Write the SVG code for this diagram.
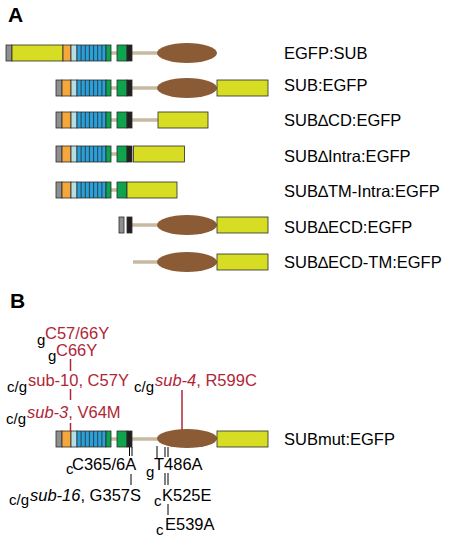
<svg xmlns="http://www.w3.org/2000/svg" width="457" height="543" viewBox="0 0 457 543">
<defs>
<style>
.o{stroke:#2b2b2b;stroke-width:0.8}
.gr{fill:#8f8f8f}.ye{fill:#d6dd22}.or{fill:#f6a73c}.lb{fill:#b5dfe6}.bl{fill:#2a9fd8}.gn{fill:#0ea44e}.bk{fill:#231f20}
.ell{fill:#8b5b35}
.tan{stroke:#c6baa2;stroke-width:3.5}
.sep{stroke:#2b2b2b;stroke-width:0.8}
.lbl{font-family:"Liberation Sans",Arial,sans-serif;font-size:16.5px;fill:#000}
.hd{font-family:"Liberation Sans",Arial,sans-serif;font-size:21px;font-weight:bold;fill:#000}
.rd{font-family:"Liberation Sans",Arial,sans-serif;font-size:16.5px;fill:#b02637}
.sm{font-family:"Liberation Sans",Arial,sans-serif;font-size:15px;fill:#000}
.blk{font-family:"Liberation Sans",Arial,sans-serif;font-size:16.5px;fill:#000}
.rl{stroke:#b02637;stroke-width:1.5}
.kl{stroke:#000;stroke-width:1}
</style>
<g id="dom">
<rect class="lb o" x="71" y="0" width="6" height="16"/>
<rect class="bl o" x="77" y="0" width="29" height="16"/>
<path class="sep" d="M81.1 0v16M85.3 0v16M89.4 0v16M93.6 0v16M97.7 0v16M101.9 0v16"/>
<rect class="gn o" x="106" y="0" width="5" height="16"/>
</g>
<g id="sub">
<rect class="gr o" x="56" y="0" width="6" height="16"/>
<rect class="or o" x="62" y="0" width="9" height="16"/>
<use href="#dom"/>
</g>
<g id="tm">
<rect class="gn o" x="117" y="0" width="10" height="16"/>
<rect class="bk o" x="127" y="0" width="5" height="16"/>
</g>
</defs>

<text class="hd" x="8" y="22">A</text>
<text class="hd" x="10" y="308">B</text>

<g id="connectors">
<line class="tan" x1="111" y1="53" x2="117" y2="53"/>
<line class="tan" x1="132" y1="53" x2="158" y2="53"/>
<line class="tan" x1="111" y1="88" x2="117" y2="88"/>
<line class="tan" x1="132" y1="88" x2="158" y2="88"/>
<line class="tan" x1="111" y1="120" x2="117" y2="120"/>
<line class="tan" x1="132" y1="120" x2="158" y2="120"/>
<line class="tan" x1="111" y1="154" x2="117" y2="154"/>
<line class="tan" x1="111" y1="190" x2="117" y2="190"/>
<line class="tan" x1="132" y1="225" x2="158" y2="225"/>
<line class="tan" x1="133" y1="262" x2="158" y2="262"/>
<line class="tan" x1="111" y1="439" x2="117" y2="439"/>
<line class="tan" x1="132" y1="439" x2="158" y2="439"/>
</g>

<g id="egfp-sub">
<rect class="gr o" x="6" y="45" width="6" height="16"/>
<rect class="ye o" x="12" y="45" width="51" height="16"/>
<rect class="or o" x="63" y="45" width="8" height="16"/>
<use href="#dom" x="0" y="45"/>
<use href="#tm" x="0" y="45"/>
<ellipse class="ell" cx="187" cy="53" rx="30" ry="10"/>
<text class="lbl" x="284" y="59">EGFP:SUB</text>
</g>

<g id="sub-egfp">
<use href="#sub" x="0" y="80"/>
<use href="#tm" x="0" y="80"/>
<ellipse class="ell" cx="187" cy="88" rx="30" ry="10"/>
<rect class="ye o" x="217" y="80" width="51" height="16"/>
<text class="lbl" x="284" y="91">SUB:EGFP</text>
</g>

<g id="sub-dcd">
<use href="#sub" x="0" y="112"/>
<use href="#tm" x="0" y="112"/>
<rect class="ye o" x="158" y="112" width="50" height="16"/>
<text class="lbl" x="284" y="126">SUB∆CD:EGFP</text>
</g>

<g id="sub-dintra">
<use href="#sub" x="0" y="146"/>
<use href="#tm" x="0" y="146"/>
<rect class="ye o" x="133.5" y="146" width="51" height="16"/>
<text class="lbl" x="284" y="162">SUB∆Intra:EGFP</text>
</g>

<g id="sub-dtm-intra">
<use href="#sub" x="0" y="182"/>
<rect class="gn o" x="117" y="182" width="10" height="16"/>
<rect class="ye o" x="127" y="182" width="50" height="16"/>
<text class="lbl" x="284" y="197">SUB∆TM-Intra:EGFP</text>
</g>

<g id="sub-decd">
<rect class="gr o" x="119" y="217" width="5" height="16"/>
<rect class="bk o" x="127" y="217" width="5" height="16"/>
<ellipse class="ell" cx="187" cy="225" rx="30" ry="10"/>
<rect class="ye o" x="217" y="217" width="51" height="16"/>
<text class="lbl" x="284" y="233">SUB∆ECD:EGFP</text>
</g>

<g id="sub-decd-tm">
<ellipse class="ell" cx="187" cy="262" rx="30" ry="10"/>
<rect class="ye o" x="217" y="254" width="51" height="16"/>
<text class="lbl" x="284" y="268">SUB∆ECD-TM:EGFP</text>
</g>

<g id="submut">
<use href="#sub" x="0" y="431"/>
<use href="#tm" x="0" y="431"/>
<ellipse class="ell" cx="187" cy="438.5" rx="30" ry="9.5"/>
<rect class="ye o" x="217" y="431" width="51" height="16"/>
<text class="lbl" x="284" y="445">SUBmut:EGFP</text>
</g>

<g id="mutation-lines">
<line class="rl" x1="70.5" y1="359" x2="70.5" y2="371"/>
<line class="rl" x1="70.5" y1="389" x2="70.5" y2="400"/>
<line class="rl" x1="70.5" y1="423" x2="70.5" y2="432"/>
<line class="rl" x1="182" y1="390" x2="182" y2="430"/>
<line class="kl" x1="129.5" y1="447" x2="129.5" y2="456"/>
<line class="kl" x1="132" y1="447" x2="132" y2="456"/>
<line class="kl" x1="131" y1="474" x2="131" y2="485"/>
<line class="kl" x1="157" y1="446" x2="157" y2="458"/>
<line class="kl" x1="165" y1="447" x2="165" y2="457"/>
<line class="kl" x1="168" y1="447" x2="168" y2="457"/>
<line class="kl" x1="165" y1="473" x2="165" y2="485"/>
<line class="kl" x1="168" y1="473" x2="168" y2="485"/>
<line class="kl" x1="168" y1="504" x2="168" y2="515"/>
</g>

<g id="mutation-labels">
<text class="sm" x="37" y="345">g</text>
<text class="rd" x="45" y="339">C57/66Y</text>
<text class="sm" x="48" y="361">g</text>
<text class="rd" x="56" y="356">C66Y</text>
<text class="sm" x="7" y="392">c/g</text>
<text class="rd" x="28" y="386">sub-10, C57Y</text>
<text class="sm" x="6" y="424">c/g</text>
<text class="rd" x="27" y="418"><tspan font-style="italic">sub-3</tspan>, V64M</text>
<text class="sm" x="134" y="392">c/g</text>
<text class="rd" x="155" y="386"><tspan font-style="italic">sub-4</tspan>, R599C</text>
<text class="sm" x="66" y="474">c</text>
<text class="blk" x="72" y="470">C365/6A</text>
<text class="sm" x="146" y="477">g</text>
<text class="blk" x="154" y="470">T486A</text>
<text class="sm" x="9" y="505">c/g</text>
<text class="blk" x="30" y="501"><tspan font-style="italic">sub-16</tspan>, G357S</text>
<text class="sm" x="154" y="506">c</text>
<text class="blk" x="162" y="501">K525E</text>
<text class="sm" x="156" y="535">c</text>
<text class="blk" x="165" y="530">E539A</text>
</g>
</svg>
